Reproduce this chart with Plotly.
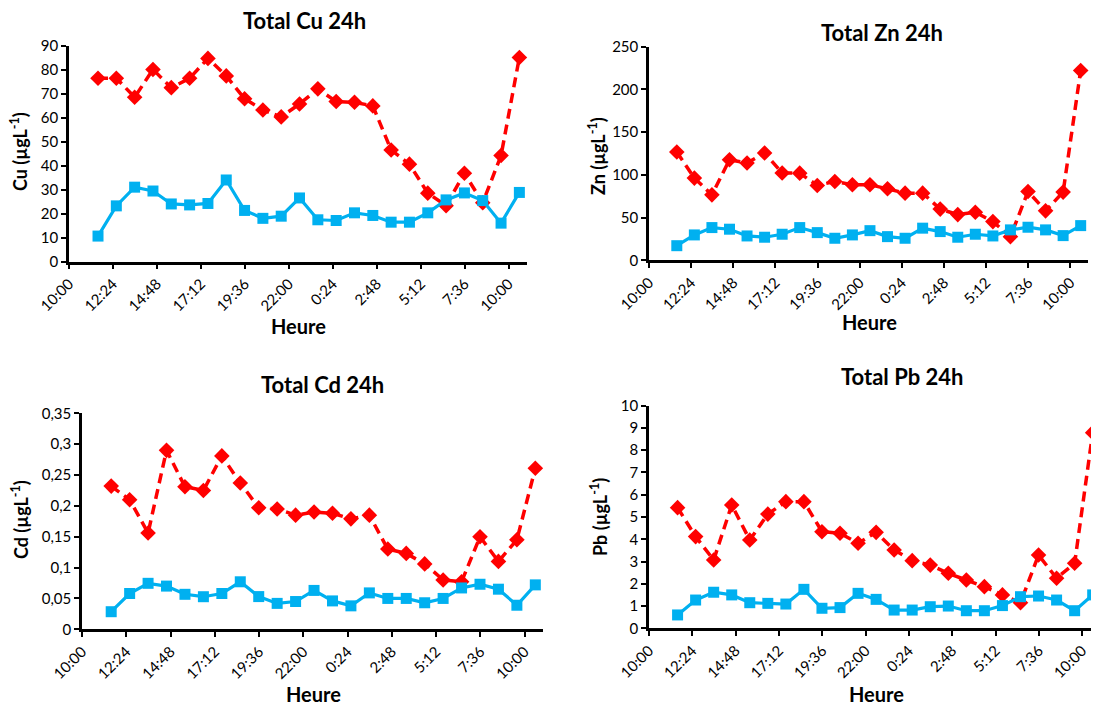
import datetime as dt
import plotly.graph_objects as go

# ---------------- data ----------------
sample_times = ["11:35", "12:35", "13:35", "14:35", "15:35", "16:35", "17:35", "18:35",
                "19:35", "20:35", "21:35", "22:35", "23:35", "0:35", "1:35", "2:35",
                "3:35", "4:35", "5:35", "6:35", "7:35", "8:35", "9:35", "10:35"]
tick_labels = ["10:00", "12:24", "14:48", "17:12", "19:36", "22:00",
               "0:24", "2:48", "5:12", "7:36", "10:00"]

cu_red = [76.4, 76.4, 68.5, 80.1, 72.5, 76.4, 84.7, 77.4, 67.9, 63.2, 60.3, 65.7,
          72.0, 66.7, 66.4, 64.9, 46.5, 40.6, 28.5, 23.3, 36.8, 24.5, 44.2, 85.1]
cu_blue = [10.6, 23.2, 31.0, 29.4, 24.0, 23.6, 24.2, 34.0, 21.3, 18.0, 18.9, 26.5,
           17.4, 17.1, 20.3, 19.2, 16.4, 16.4, 20.3, 25.7, 28.6, 25.4, 16.0, 28.8]
zn_red = [126.8, 96.2, 76.6, 117.7, 113.8, 125.6, 102.1, 102.0, 87.6, 92.3, 88.4, 88.4,
          83.7, 78.6, 78.6, 59.9, 53.5, 56.3, 45.3, 27.7, 80.5, 57.9, 79.8, 222.2]
zn_blue = [17.1, 29.7, 38.3, 36.4, 28.5, 27.0, 30.5, 38.3, 32.4, 25.8, 29.7, 34.7,
           27.7, 25.8, 37.6, 33.6, 27.0, 30.5, 28.5, 35.6, 38.7, 35.6, 28.9, 40.6]
cd_red = [0.232, 0.210, 0.156, 0.290, 0.231, 0.225, 0.281, 0.237, 0.197, 0.195, 0.185, 0.190,
          0.188, 0.179, 0.185, 0.130, 0.123, 0.106, 0.080, 0.077, 0.150, 0.110, 0.145, 0.261]
cd_blue = [0.0285, 0.058, 0.0745, 0.070, 0.0567, 0.0528, 0.058, 0.077, 0.053, 0.042, 0.045, 0.063,
           0.046, 0.038, 0.059, 0.050, 0.050, 0.043, 0.050, 0.067, 0.073, 0.065, 0.039, 0.072]
pb_red = [5.42, 4.12, 3.07, 5.54, 3.97, 5.13, 5.69, 5.69, 4.34, 4.27, 3.82, 4.31,
          3.52, 3.04, 2.84, 2.47, 2.17, 1.87, 1.50, 1.15, 3.29, 2.25, 2.92, 8.79]
pb_blue = [0.60, 1.27, 1.62, 1.50, 1.15, 1.12, 1.09, 1.75, 0.90, 0.93, 1.57, 1.30,
           0.82, 0.82, 0.97, 1.00, 0.79, 0.79, 1.02, 1.42, 1.45, 1.27, 0.79, 1.50]


def to_datetimes(labels):
    base = dt.datetime(2000, 1, 1)
    out = []
    day = 0
    prev = None
    for lab in labels:
        h, m = (int(v) for v in lab.split(":"))
        minutes = h * 60 + m
        if prev is not None and minutes <= prev:
            day += 1
        prev = minutes
        out.append(base + dt.timedelta(days=day, minutes=minutes))
    return out


x_times = to_datetimes(sample_times)
tick_vals = to_datetimes(tick_labels)
x_start = tick_vals[0]
x_end_full = tick_vals[-1] + dt.timedelta(hours=1)
x_end_pb = tick_vals[-1] + dt.timedelta(minutes=56)

RED = "#FF0000"
BLUE = "#00B0F0"
FONT = "Lato"

# page body has an 8px margin: the figure is placed at (8, 8)
OFF = 8
W = 1099 - OFF
H = 707 - OFF


def px_x(px):
    return (px - OFF) / W


def px_y(py):
    return 1 - (py - OFF) / H


panels = [
    # red, blue, xaxis, yaxis, x pixels (left,right), y pixels (top,bottom), yrange, dtick, xend
    (cu_red, cu_blue, "x", "y", (69, 527), (45.7, 261.5), [0, 90], 10, x_end_full),
    (zn_red, zn_blue, "x2", "y2", (649, 1088), (46.7, 260.3), [0, 250], 50, x_end_full),
    (cd_red, cd_blue, "x3", "y3", (82, 543), (413.3, 629.3), [0, 0.35], 0.05, x_end_full),
    (pb_red, pb_blue, "x4", "y4", (649, 1099), (405.7, 628.3), [0, 10], 1, x_end_pb),
]

fig = go.Figure()
layout = {}
for red, blue, xa, ya, xp, yp, yr, dtk, xend in panels:
    fig.add_trace(go.Scatter(
        x=x_times, y=red, xaxis=xa, yaxis=ya, mode="lines+markers",
        line=dict(color=RED, width=3.5, dash="10px,6px"),
        marker=dict(symbol="diamond", size=12, color=RED),
        showlegend=False, cliponaxis=False))
    fig.add_trace(go.Scatter(
        x=x_times, y=blue, xaxis=xa, yaxis=ya, mode="lines+markers",
        line=dict(color=BLUE, width=3.2),
        marker=dict(symbol="square", size=11, color=BLUE),
        showlegend=False, cliponaxis=False))
    xkey = "xaxis" + xa[1:]
    ykey = "yaxis" + ya[1:]
    xd = [max(0.0, px_x(xp[0])), min(1.0, px_x(xp[1]))]
    yd = [max(0.0, px_y(yp[1])), min(1.0, px_y(yp[0]))]
    layout[xkey] = dict(
        domain=xd, anchor=ya, type="date", range=[x_start, xend], automargin=False,
        tickmode="array", tickvals=tick_vals, ticktext=tick_labels,
        tickangle=-45, ticks="outside", ticklen=5, tickwidth=2, tickcolor="black",
        showline=True, linecolor="black", linewidth=2.5, showgrid=False, zeroline=False,
        tickfont=dict(family=FONT, size=15, color="black"))
    layout[ykey] = dict(
        domain=yd, anchor=xa, range=yr, dtick=dtk, tick0=0, automargin=False,
        ticks="outside", ticklen=5, tickwidth=2, tickcolor="black",
        showline=True, linecolor="black", linewidth=2.5, showgrid=False, zeroline=False,
        tickfont=dict(family=FONT, size=15, color="black"))

fig.update_layout(**layout)

ann = []
titles = [("Total Cu 24h", 305, 21), ("Total Zn 24h", 882, 32),
          ("Total Cd 24h", 322, 384), ("Total Pb 24h", 902, 376)]
for text, px, py in titles:
    ann.append(dict(text="<b>%s</b>" % text, x=px_x(px), y=px_y(py), xref="paper", yref="paper",
                    showarrow=False, xanchor="center", yanchor="middle",
                    font=dict(family=FONT, size=22, color="black")))
heures = [(298, 326), (869, 322), (313, 694), (876, 694)]
for px, py in heures:
    ann.append(dict(text="<b>Heure</b>", x=px_x(px), y=px_y(py), xref="paper", yref="paper",
                    showarrow=False, xanchor="center", yanchor="middle",
                    font=dict(family=FONT, size=20, color="black")))
ylabels = [("Cu", 19, 152), ("Zn", 597, 156), ("Cd", 20, 520), ("Pb", 599, 517)]
for el, px, py in ylabels:
    ann.append(dict(text="<b>%s (µgL<sup>-1</sup>)</b>" % el, x=px_x(px), y=px_y(py),
                    xref="paper", yref="paper", textangle=-90,
                    showarrow=False, xanchor="center", yanchor="middle",
                    font=dict(family=FONT, size=18, color="black")))

fig.update_layout(
    annotations=ann,
    width=W, height=H,
    margin=dict(l=0, r=0, t=0, b=0, autoexpand=False),
    paper_bgcolor="white", plot_bgcolor="white",
    separators=", ",
    showlegend=False,
)

fig.write_html("out.html")
